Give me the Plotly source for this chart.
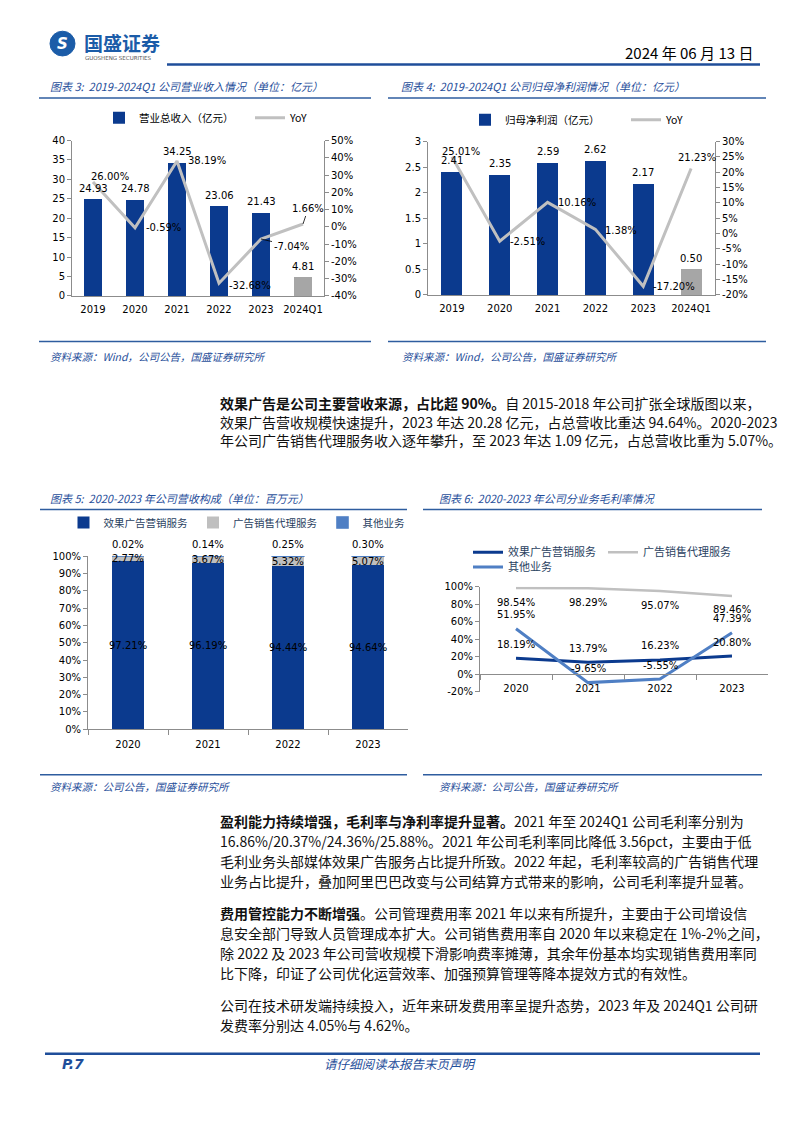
import plotly.graph_objects as go

W, H = 802, 1133


def px(x):
    return x / W


def py(y):
    return 1 - y / H


# ---------------- data ----------------
years6 = ["2019", "2020", "2021", "2022", "2023", "2024Q1"]
revenue = [24.93, 24.78, 34.25, 23.06, 21.43, 4.81]
revenue_yoy = [26.00, -0.59, 38.19, -32.68, -7.04, 1.66]
profit = [2.41, 2.35, 2.59, 2.62, 2.17, 0.50]
profit_yoy = [25.01, -2.51, 10.16, 1.38, -17.20, 21.23]

years4 = ["2020", "2021", "2022", "2023"]
share_effect = [97.21, 96.19, 94.44, 94.64]
share_agency = [2.77, 3.67, 5.32, 5.07]
share_other = [0.02, 0.14, 0.25, 0.30]

gm_effect = [18.19, 13.79, 16.23, 20.80]
gm_agency = [98.54, 98.29, 95.07, 89.46]
gm_other = [51.95, -9.65, -5.55, 47.39]

rev_left_ticks = [0, 5, 10, 15, 20, 25, 30, 35, 40]
rev_right_ticks = [-40, -30, -20, -10, 0, 10, 20, 30, 40, 50]
rev_right_text = ["-40%", "-30%", "-20%", "-10%", "0%", "10%", "20%", "30%", "40%", "50%"]
pro_left_ticks = [0, 0.5, 1, 1.5, 2, 2.5, 3]
pro_left_text = ["0", "0.5", "1", "1.5", "2", "2.5", "3"]
pro_right_ticks = [-20, -15, -10, -5, 0, 5, 10, 15, 20, 25, 30]
pro_right_text = ["-20%", "-15%", "-10%", "-5%", "0%", "5%", "10%", "15%", "20%", "25%", "30%"]
share_ticks = [0, 10, 20, 30, 40, 50, 60, 70, 80, 90, 100]
share_text = ["0%", "10%", "20%", "30%", "40%", "50%", "60%", "70%", "80%", "90%", "100%"]
gm_ticks = [-20, 0, 20, 40, 60, 80, 100]
gm_text = ["-20%", "0%", "20%", "40%", "60%", "80%", "100%"]

# ---------------- styles ----------------
BLUE = "#0B3A8E"
GRAY_BAR = "#A6A6A6"
YOY_GRAY = "#C0C0C0"
LIGHT_BLUE = "#4F7FC4"
TITLE_BLUE = "#1F4E9A"
AXIS = "#8C8C8C"
CJK = "Noto Sans CJK SC"
NUM = "DejaVu Sans"
tickfont = dict(family=NUM, size=10, color="#000")
labfont = dict(family=NUM, size=10, color="#000")

rev_yoy_shift = [(17, 5), (28, 0), (30, 0), (31, -2), (30, -7), (5, 15)]
rev_leader = [False, False, False, False, True, True]
pro_yoy_shift = [(9, 5), (28, 0), (29, 0), (26, -1), (31, 0), (6, 11)]

fig = go.Figure()

# ---- chart 3 ----
bar_colors3 = [GRAY_BAR if c.endswith("Q1") else BLUE for c in years6]
fig.add_trace(go.Bar(x=years6, y=revenue, marker=dict(color=bar_colors3, line=dict(width=0)),
                     width=0.44, name="营业总收入（亿元）", xaxis="x", yaxis="y", legend="legend"))
fig.add_trace(go.Scatter(x=years6, y=revenue_yoy, mode="lines", line=dict(color=YOY_GRAY, width=3),
                         name="YoY", xaxis="x", yaxis="y2", legend="legend"))

# ---- chart 4 ----
fig.add_trace(go.Bar(x=years6, y=profit, marker=dict(color=bar_colors3, line=dict(width=0)),
                     width=0.44, name="归母净利润（亿元）", xaxis="x2", yaxis="y3", legend="legend2"))
fig.add_trace(go.Scatter(x=years6, y=profit_yoy, mode="lines", line=dict(color=YOY_GRAY, width=3),
                         name="YoY", xaxis="x2", yaxis="y4", legend="legend2"))

# ---- chart 5 ----
fig.add_trace(go.Bar(x=years4, y=share_effect, marker=dict(color=BLUE, line=dict(width=0)), width=0.41,
                     name="效果广告营销服务", xaxis="x3", yaxis="y5", legend="legend3"))
fig.add_trace(go.Bar(x=years4, y=share_agency, marker=dict(color="#BFBFBF", line=dict(width=0)), width=0.41,
                     name="广告销售代理服务", xaxis="x3", yaxis="y5", legend="legend3"))
fig.add_trace(go.Bar(x=years4, y=share_other, marker=dict(color=LIGHT_BLUE, line=dict(width=0.6, color=LIGHT_BLUE)),
                     width=0.41, name="其他业务", xaxis="x3", yaxis="y5", legend="legend3"))

# ---- chart 6 ----
fig.add_trace(go.Scatter(x=years4, y=gm_effect, mode="lines", line=dict(color=BLUE, width=3),
                         name="效果广告营销服务", xaxis="x4", yaxis="y6", legend="legend4"))
fig.add_trace(go.Scatter(x=years4, y=gm_agency, mode="lines", line=dict(color=YOY_GRAY, width=2.5),
                         name="广告销售代理服务", xaxis="x4", yaxis="y6", legend="legend4"))
fig.add_trace(go.Scatter(x=years4, y=gm_other, mode="lines", line=dict(color=LIGHT_BLUE, width=3),
                         name="其他业务", xaxis="x4", yaxis="y6", legend="legend5"))

ann = []


def lab(text, x, y, xref, yref, xs=0, ys=0, font=labfont, xanchor="center", yanchor="middle"):
    ann.append(dict(text=text, x=x, y=y, xref=xref, yref=yref, xshift=xs, yshift=ys,
                    showarrow=False, font=font, xanchor=xanchor, yanchor=yanchor))


def lab_leader(text, x, y, xref, yref, xs, ys):
    ann.append(dict(text=text, x=x, y=y, xref=xref, yref=yref, ax=xs, ay=-ys, axref="pixel", ayref="pixel",
                    showarrow=True, arrowhead=0, arrowwidth=0.8, arrowcolor="#000", standoff=0,
                    font=labfont))


# category positions on the category axes are their indices
for i, v in enumerate(revenue):
    lab(f"{v:.2f}", i, v, "x", "y", 0, 11)
for i, (v, s, ld) in enumerate(zip(revenue_yoy, rev_yoy_shift, rev_leader)):
    if ld:
        lab_leader(f"{v:.2f}%", i, v, "x", "y2", s[0], s[1])
    else:
        lab(f"{v:.2f}%", i, v, "x", "y2", s[0], s[1])
for i, v in enumerate(profit):
    lab(f"{v:.2f}", i, v, "x2", "y3", 0, 11)
for i, (v, s) in enumerate(zip(profit_yoy, pro_yoy_shift)):
    lab(f"{v:.2f}%", i, v, "x2", "y4", s[0], s[1])
for i, (a, b, o) in enumerate(zip(share_effect, share_agency, share_other)):
    lab(f"{a:.2f}%", i, a / 2, "x3", "y5")
    lab(f"{b:.2f}%", i, a + b / 2, "x3", "y5")
    lab(f"{o:.2f}%", i, min(a + b + o, 100), "x3", "y5", 0, 12)
for i, (a, b, o) in enumerate(zip(gm_effect, gm_agency, gm_other)):
    lab(f"{a:.2f}%", i, a, "x4", "y6", 0, 14)
    lab(f"{b:.2f}%", i, b, "x4", "y6", 0, -14)
    lab(f"{o:.2f}%", i, o, "x4", "y6", 0, 14)


def ptext(text, x, y, size, color="#000", family=CJK, xanchor="left"):
    ann.append(dict(text=text, x=px(x), y=py(y), xref="paper", yref="paper", showarrow=False,
                    font=dict(family=family, size=size, color=color), xanchor=xanchor, yanchor="middle"))


# header
ptext("<b>国盛证券</b>", 82, 37, 19, "#1B5CA8")
ptext("GUOSHENG SECURITIES", 83, 53, 5.5, "#555", NUM)
ptext("<b><i>S</i></b>", 62.5, 38, 15, "white", NUM, "center")
ptext("2024 年 06 月 13 日", 755, 47, 15, "#000", CJK, "right")

# chart titles & sources
ptext("<i>图表 3:  2019-2024Q1 公司营业收入情况（单位：亿元）</i>", 48, 81, 11, TITLE_BLUE)
ptext("<i>图表 4:  2019-2024Q1 公司归母净利润情况（单位：亿元）</i>", 399, 81, 11, TITLE_BLUE)
ptext("<i>资料来源：Wind，公司公告，国盛证券研究所</i>", 48, 354, 10.5, TITLE_BLUE)
ptext("<i>资料来源：Wind，公司公告，国盛证券研究所</i>", 400, 354, 10.5, TITLE_BLUE)
ptext("<i>图表 5:  2020-2023 年公司营收构成（单位：百万元）</i>", 48, 497, 11, TITLE_BLUE)
ptext("<i>图表 6:  2020-2023 年公司分业务毛利率情况</i>", 437, 497, 11, TITLE_BLUE)
ptext("<i>资料来源：公司公告，国盛证券研究所</i>", 48, 789, 10.5, TITLE_BLUE)
ptext("<i>资料来源：公司公告，国盛证券研究所</i>", 437, 789, 10.5, TITLE_BLUE)

# body text
BODY = 14
paraA = [
    "<b>效果广告是公司主要营收来源，占比超 90%。</b>自 2015-2018 年公司扩张全球版图以来，",
    "效果广告营收规模快速提升，2023 年达 20.28 亿元，占总营收比重达 94.64%。2020-2023",
    "年公司广告销售代理服务收入逐年攀升，至 2023 年达 1.09 亿元，占总营收比重为 5.07%。",
]
paraB = [
    "<b>盈利能力持续增强，毛利率与净利率提升显著。</b>2021 年至 2024Q1 公司毛利率分别为",
    "16.86%/20.37%/24.36%/25.88%。2021 年公司毛利率同比降低 3.56pct，主要由于低",
    "毛利业务头部媒体效果广告服务占比提升所致。2022 年起，毛利率较高的广告销售代理",
    "业务占比提升，叠加阿里巴巴改变与公司结算方式带来的影响，公司毛利率提升显著。",
]
paraC = [
    "<b>费用管控能力不断增强</b>。公司管理费用率 2021 年以来有所提升，主要由于公司增设信",
    "息安全部门导致人员管理成本扩大。公司销售费用率自 2020 年以来稳定在 1%-2%之间，",
    "除 2022 及 2023 年公司营收规模下滑影响费率摊薄，其余年份基本均实现销售费用率同",
    "比下降，印证了公司优化运营效率、加强预算管理等降本提效方式的有效性。",
]
paraD = [
    "公司在技术研发端持续投入，近年来研发费用率呈提升态势，2023 年及 2024Q1 公司研",
    "发费率分别达 4.05%与 4.62%。",
]
for lines, y0, ls in [(paraA, 401, 19), (paraB, 824, 20), (paraC, 917, 20), (paraD, 1010, 20)]:
    for i, t in enumerate(lines):
        ptext(t, 218, y0 + i * ls, BODY, "#111")

# footer
ptext("<b><i>P.7</i></b>", 60, 1069, 14, TITLE_BLUE, NUM)
ptext("<i>请仔细阅读本报告末页声明</i>", 400, 1069, 12.5, TITLE_BLUE, CJK, "center")


def hline(x0, x1, y, w, color):
    return dict(type="line", xref="paper", yref="paper", x0=px(x0), x1=px(x1), y0=py(y), y1=py(y),
                line=dict(color=color, width=w))


shapes = [
    dict(type="circle", xref="paper", yref="paper", x0=px(50), x1=px(75), y0=py(50.5), y1=py(25.5),
         fillcolor="#1B5CA8", line=dict(color="#1B5CA8", width=1)),
    hline(167, 760, 59, 2.5, "#1F4E9A"),
    hline(39, 371, 93, 1.5, "#2E5D9F"),
    hline(388, 766, 93, 1.5, "#2E5D9F"),
    hline(39, 371, 339, 1.5, "#2E5D9F"),
    hline(388, 766, 339, 1.5, "#2E5D9F"),
    hline(40, 407, 509, 1.5, "#2E5D9F"),
    hline(423, 762, 509, 1.5, "#2E5D9F"),
    hline(40, 407, 777, 1.5, "#2E5D9F"),
    hline(423, 762, 777, 1.5, "#2E5D9F"),
    hline(45, 760, 1059, 2.5, "#1F4E9A"),
]


def ydom(top, bottom):
    return [py(bottom), py(top)]


def xdom(a, b):
    return [px(a), px(b)]


ycommon = dict(showgrid=False, zeroline=False, showline=True, linecolor=AXIS, linewidth=1,
               ticks="outside", ticklen=4, tickcolor=AXIS, tickfont=tickfont, fixedrange=True)
xcommon = dict(type="category", showgrid=False, zeroline=False, showline=True, linecolor=AXIS,
               linewidth=1, tickfont=tickfont, fixedrange=True)

# chart 6 zero-line position for x axis
g_dom = ydom(587, 693)
g_rng = [-20, 100]
zero_pos = g_dom[0] + (0 - g_rng[0]) / (g_rng[1] - g_rng[0]) * (g_dom[1] - g_dom[0])

leg_common = dict(orientation="h", xanchor="left", yanchor="middle", bgcolor="rgba(0,0,0,0)",
                  itemwidth=30, tracegroupgap=0, traceorder="normal",
                  font=dict(family=CJK, size=10.5, color="#000"))

fig.update_layout(
    width=W, height=H, margin=dict(l=0, r=0, t=0, b=0),
    paper_bgcolor="white", plot_bgcolor="white", barmode="stack", showlegend=True,
    annotations=ann, shapes=shapes,
    xaxis=dict(xcommon, domain=xdom(72, 324), anchor="y", range=[-0.5, 5.5],
               ticks="outside", ticklen=4, tickcolor="rgba(0,0,0,0)"),
    yaxis=dict(ycommon, domain=ydom(136, 293), anchor="x", range=[0, 40], tickvals=rev_left_ticks),
    yaxis2=dict(ycommon, overlaying="y", side="right", anchor="x", range=[-40, 50],
                tickvals=rev_right_ticks, ticktext=rev_right_text),
    xaxis2=dict(xcommon, domain=xdom(428, 715), anchor="y3", range=[-0.5, 5.5],
                ticks="outside", ticklen=4, tickcolor="rgba(0,0,0,0)"),
    yaxis3=dict(ycommon, domain=ydom(137, 292), anchor="x2", range=[0, 3], tickvals=pro_left_ticks,
                ticktext=pro_left_text),
    yaxis4=dict(ycommon, overlaying="y3", side="right", anchor="x2", range=[-20, 30],
                tickvals=pro_right_ticks, ticktext=pro_right_text),
    xaxis3=dict(xcommon, domain=xdom(88, 408), anchor="y5", range=[-0.5, 3.5],
                ticks="outside", ticklen=5, tickcolor=AXIS, tickson="boundaries", ticklabelstandoff=6),
    yaxis5=dict(ycommon, domain=ydom(556, 731), anchor="x3", range=[0, 100], tickvals=share_ticks,
                ticktext=share_text),
    xaxis4=dict(xcommon, domain=xdom(480, 768), anchor="free", position=zero_pos, range=[-0.5, 3.5],
                ticks="outside", ticklen=5, tickcolor=AXIS, tickson="boundaries", ticklabelstandoff=5),
    yaxis6=dict(ycommon, domain=g_dom, anchor="x4", range=g_rng, tickvals=gm_ticks, ticktext=gm_text),
    legend=dict(leg_common, x=px(99), y=py(113), entrywidth=106, entrywidthmode="pixels"),
    legend2=dict(leg_common, x=px(465), y=py(115), entrywidth=116, entrywidthmode="pixels"),
    legend3=dict(leg_common, x=px(237), xanchor="center", y=py(522), font=dict(family=CJK, size=10.5)),
    legend4=dict(leg_common, x=px(468), y=py(552), entrywidth=90, entrywidthmode="pixels",
                 font=dict(family=CJK, size=11)),
    legend5=dict(leg_common, x=px(468), y=py(567), font=dict(family=CJK, size=11)),
)

fig.write_html("out.html")
